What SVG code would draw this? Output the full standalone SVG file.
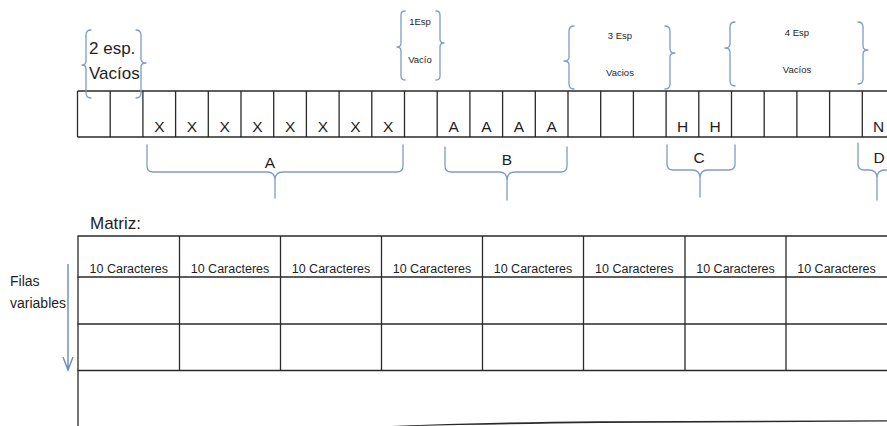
<svg xmlns="http://www.w3.org/2000/svg" width="887" height="426" viewBox="0 0 887 426">
  <style>
    .txt { font-family: "Liberation Sans", Arial, sans-serif; fill: #1e1e1e; }
    .cell { font-size: 15.5px; text-anchor: middle; }
    .note { font-size: 17px; }
    .small { font-size: 9.5px; text-anchor: middle; }
    .hdr { font-size: 12.5px; text-anchor: middle; }
    .lbl { font-size: 15.5px; text-anchor: middle; }
    .side { font-size: 14px; }
    .grid { stroke: #2a2a2a; stroke-width: 1.3; fill: none; }
    .brace { stroke: #7f9cc2; stroke-width: 1.3; fill: none; stroke-linejoin: round; stroke-linecap: round; }
    .arrow { stroke: #6a8cb8; stroke-width: 1.4; fill: none; }
  </style>

  <rect width="887" height="426" fill="#ffffff"/>

  <!-- character row -->
  <g id="char-row">
    <path class="grid" d="M77.5 91 H887 M77.5 137 H887"/>
    <path class="grid" d="M77.5 91 V137 M110.2 91 V137 M142.9 91 V137 M175.6 91 V137 M208.3 91 V137 M241 91 V137 M273.7 91 V137 M306.4 91 V137 M339.1 91 V137 M371.8 91 V137 M404.5 91 V137 M437.2 91 V137 M469.9 91 V137 M502.6 91 V137 M535.3 91 V137 M568 91 V137 M600.7 91 V137 M633.4 91 V137 M666.1 91 V137 M698.8 91 V137 M731.5 91 V137 M764.2 91 V137 M796.9 91 V137 M829.6 91 V137 M862.3 91 V137"/>
    <g class="txt cell">
      <text x="159.3" y="132">X</text>
      <text x="192" y="132">X</text>
      <text x="224.7" y="132">X</text>
      <text x="257.4" y="132">X</text>
      <text x="290.1" y="132">X</text>
      <text x="322.8" y="132">X</text>
      <text x="355.5" y="132">X</text>
      <text x="388.2" y="132">X</text>
      <text x="453.6" y="132">A</text>
      <text x="486.3" y="132">A</text>
      <text x="519" y="132">A</text>
      <text x="551.7" y="132">A</text>
      <text x="682.5" y="132">H</text>
      <text x="715.2" y="132">H</text>
      <text x="878.7" y="132">N</text>
    </g>
  </g>

  <!-- gap annotations above the row -->
  <g id="gap-2">
    <path class="brace" d="M91 30 Q86 30 86 35 V61 Q86 65 82 65 Q86 65 86 69 V93 Q86 98 91 98"/>
    <path class="brace" d="M136 30 Q141 30 141 35 V59 Q141 63 146 63 Q141 63 141 67 V93 Q141 98 136 98"/>
    <text class="txt note" x="89" y="54">2 esp.</text>
    <text class="txt note" x="89" y="79">Vacíos</text>
  </g>

  <g id="gap-1">
    <path class="brace" d="M405 11 Q401 11 401 15 V43 Q401 47 397 47 Q401 47 401 51 V76 Q401 80 405 80"/>
    <path class="brace" d="M436 11 Q440 11 440 15 V39 Q440 43 444 43 Q440 43 440 47 V76 Q440 80 436 80"/>
    <text class="txt small" x="420" y="25">1Esp</text>
    <text class="txt small" x="420" y="63">Vacío</text>
  </g>

  <g id="gap-3">
    <path class="brace" d="M574 26 Q569 26 569 31 V57 Q569 61 564 61 Q569 61 569 65 V84 Q569 89 574 89"/>
    <path class="brace" d="M665 26 Q670 26 670 31 V49 Q670 53 675 53 Q670 53 670 57 V84 Q670 89 665 89"/>
    <text class="txt small" x="620" y="39">3 Esp</text>
    <text class="txt small" x="620" y="76">Vacios</text>
  </g>

  <g id="gap-4">
    <path class="brace" d="M735 22 Q730 22 730 27 V44 Q730 48 725 48 Q730 48 730 52 V81 Q730 86 735 86"/>
    <path class="brace" d="M858 22 Q863 22 863 27 V46 Q863 50 868 50 Q863 50 863 54 V79 Q863 84 858 84"/>
    <text class="txt small" x="797" y="36">4 Esp</text>
    <text class="txt small" x="797" y="73">Vacíos</text>
  </g>

  <!-- group brackets below the row -->
  <g id="group-a">
    <path class="brace" d="M147 145 V166 Q147 172 153 172 H267 Q275 172 275 180 V198 M275 180 Q275 172 283 172 H397 Q403 172 403 166 V145"/>
    <text class="txt lbl" x="270" y="168">A</text>
  </g>
  <g id="group-b">
    <path class="brace" d="M445 147 V166 Q445 172 451 172 H499 Q507 172 507 180 V200 M507 180 Q507 172 515 172 H561 Q567 172 567 166 V147"/>
    <text class="txt lbl" x="507" y="165">B</text>
  </g>
  <g id="group-c">
    <path class="brace" d="M667 145 V164 Q667 170 673 170 H692 Q700 170 700 178 V197 M700 178 Q700 170 708 170 H729 Q735 170 735 164 V145"/>
    <text class="txt lbl" x="699" y="163">C</text>
  </g>
  <g id="group-d">
    <path class="brace" d="M858 143 V164 Q858 170 864 170 H869 Q877 170 877 178 V200 M877 178 Q877 170 885 170 H892"/>
    <text class="txt lbl" x="879" y="163">D</text>
  </g>

  <!-- matrix -->
  <g id="matrix">
    <text class="txt note" x="90" y="229">Matriz:</text>
    <path class="grid" d="M77.5 236 H887 M77.5 277 H887"/>
    <path class="grid" d="M77.5 324 H887" stroke-width="2"/>
    <path class="grid" d="M77.5 370.5 H887" stroke-width="3" stroke="#1a1a1a"/>
    <path class="grid" d="M78 236 V426 M179.5 236 V370 M280.5 236 V370 M381.5 236 V370 M482.5 236 V370 M583.5 236 V370 M685 236 V370 M786 236 V370"/>
    <g class="txt hdr">
      <text x="128.8" y="273">10 Caracteres</text>
      <text x="230" y="273">10 Caracteres</text>
      <text x="331" y="273">10 Caracteres</text>
      <text x="432" y="273">10 Caracteres</text>
      <text x="533" y="273">10 Caracteres</text>
      <text x="634.3" y="273">10 Caracteres</text>
      <text x="735.5" y="273">10 Caracteres</text>
      <text x="836.5" y="273">10 Caracteres</text>
    </g>
    <!-- curled lower edge -->
    <path d="M380 426.5 Q470 422.5 600 421.3 L887 420.3 L887 421.5 L600 423 Q470 424.5 380 426.8 Z" fill="#2a2a2a"/>
  </g>

  <!-- row-count note -->
  <g id="rows-note">
    <text class="txt side" x="10" y="286">Filas</text>
    <text class="txt side" x="10" y="308">variables</text>
  </g>

  <!-- connectors -->
  <g id="connectors">
    <path class="arrow" d="M68 264 V370 M63 357 L68 370 L73 357"/>
  </g>
</svg>
